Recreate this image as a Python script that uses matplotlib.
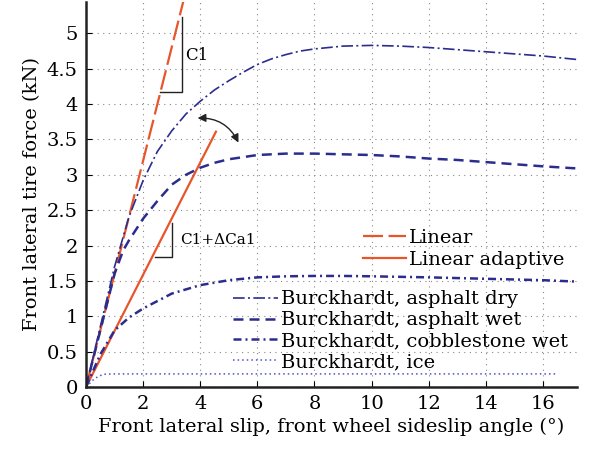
import numpy as np
import matplotlib
matplotlib.use('Agg')
import matplotlib.pyplot as plt

# the reference text is wide, DejaVu Serif matches its widths better than a Times clone
plt.rcParams['font.family'] = ['DejaVu Serif']
plt.rcParams['font.size'] = 14

# values
slip_lin = [0.0, 3.45]
force_lin = [0.0, 5.52]
slip_adapt = [0.0, 4.55]
force_adapt = [0.0, 3.61]

slip_dry = [0, 0.5, 1, 1.5, 2, 2.5, 3, 3.5, 4, 4.5, 5, 5.5, 6, 6.5, 7, 7.5, 8, 9, 10,
            11, 12, 13, 14, 15, 16, 17.2]
force_dry = [0, 0.85, 1.7, 2.4, 2.92, 3.33, 3.62, 3.86, 4.04, 4.2, 4.33, 4.45, 4.56,
             4.64, 4.7, 4.75, 4.78, 4.82, 4.83, 4.82, 4.80, 4.77, 4.74, 4.71, 4.68, 4.63]

slip_wet = [0, 0.5, 1, 1.3, 1.5, 2, 2.5, 3, 3.5, 4, 4.5, 5, 6, 7, 8, 9, 10, 11, 12,
            13, 14, 15, 16, 17.2]
force_wet = [0, 0.8, 1.6, 1.93, 2.07, 2.38, 2.63, 2.86, 3.0, 3.1, 3.17, 3.22, 3.28,
             3.30, 3.30, 3.29, 3.28, 3.26, 3.23, 3.21, 3.18, 3.15, 3.12, 3.09]

slip_cob = [0, 0.5, 1, 1.5, 2, 3, 4, 5, 6, 7, 8, 9, 10, 12, 14, 16, 17.2]
force_cob = [0, 0.46, 0.8, 0.98, 1.11, 1.32, 1.44, 1.51, 1.55, 1.565, 1.57, 1.57,
             1.565, 1.55, 1.53, 1.51, 1.49]

slip_ice = [0, 0.3, 0.6, 1, 4, 8, 12, 16.5]
force_ice = [0, 0.12, 0.18, 0.185, 0.185, 0.185, 0.185, 0.185]

xticks = np.arange(0, 17, 2)
yticks = np.arange(0, 5.01, 0.5)
ytick_labels = ['0', '0.5', '1', '1.5', '2', '2.5', '3', '3.5', '4', '4.5', '5']

orange = '#E9552B'
navy = '#2B2D8E'
violet = '#5050CC'

fig = plt.figure(figsize=(5.89, 4.54), dpi=100)
ax = fig.add_axes([0.146, 0.1476, 0.834, 0.849])

l_lin, = ax.plot(slip_lin, force_lin, color=orange, lw=1.6, ls=(0, (9, 2.5)),
                 label='Linear')
l_adapt, = ax.plot(slip_adapt, force_adapt, color=orange, lw=1.6, label='Linear adaptive')
l_dry, = ax.plot(slip_dry, force_dry, color=navy, lw=1.2, ls=(0, (7, 2, 1.2, 2)),
                 label='Burckhardt, asphalt dry')
l_wet, = ax.plot(slip_wet, force_wet, color=navy, lw=1.8, ls=(0, (4, 2.4)),
                 label='Burckhardt, asphalt wet')
l_cob, = ax.plot(slip_cob, force_cob, color=navy, lw=1.8, ls=(0, (3.2, 1.6, 0.8, 1.6)),
                 label='Burckhardt, cobblestone wet')
l_ice, = ax.plot(slip_ice, force_ice, color=violet, lw=1.1, ls=(0, (1, 2)),
                 label='Burckhardt, ice')

ax.set_xlim(0, 17.2)
ax.set_ylim(0, 5.45)
ax.set_xticks(xticks)
ax.set_yticks(yticks)
ax.set_yticklabels(ytick_labels)
ax.tick_params(direction='in', length=4, width=0.8, pad=6)
ax.grid(True, color='#888888', ls=(0, (1, 4)), lw=0.8)
for s in ['top', 'right']:
    ax.spines[s].set_visible(False)
for s in ['left', 'bottom']:
    ax.spines[s].set_linewidth(1.8)
    ax.spines[s].set_color('#222222')

ax.set_xlabel('Front lateral slip, front wheel sideslip angle (°)', labelpad=3)
ax.set_ylabel('Front lateral tire force (kN)', labelpad=4)

# slope triangles
ax.plot([2.59, 3.35, 3.35], [4.17, 4.17, 5.23], color='#222222', lw=1.0)
ax.text(3.48, 4.69, 'C1', va='center', ha='left', fontsize=12)
ax.plot([2.41, 3.0, 3.0], [1.84, 1.84, 2.32], color='#222222', lw=1.0)
ax.text(3.3, 2.08, 'C1+ΔCa1', va='center', ha='left', fontsize=11)

ax.annotate('', xy=(3.81, 3.8), xytext=(5.38, 3.42),
            arrowprops=dict(arrowstyle='<|-|>', color='#222222', lw=1.0,
                            mutation_scale=12, connectionstyle='arc3,rad=0.35'))

leg1 = ax.legend(handles=[l_lin, l_adapt], loc='upper left', bbox_to_anchor=(9.7, 2.23),
                 bbox_transform=ax.transData, frameon=False, borderpad=0,
                 borderaxespad=0, handlelength=2.2, handletextpad=0.15,
                 labelspacing=0.2, fontsize=14)
ax.add_artist(leg1)
ax.legend(handles=[l_dry, l_wet, l_cob, l_ice], loc='upper left',
          bbox_to_anchor=(5.15, 1.365), bbox_transform=ax.transData, frameon=False,
          borderpad=0, borderaxespad=0, handlelength=2.3, handletextpad=0.15,
          labelspacing=0.15, fontsize=14)

fig.savefig('out.png', dpi=100)
